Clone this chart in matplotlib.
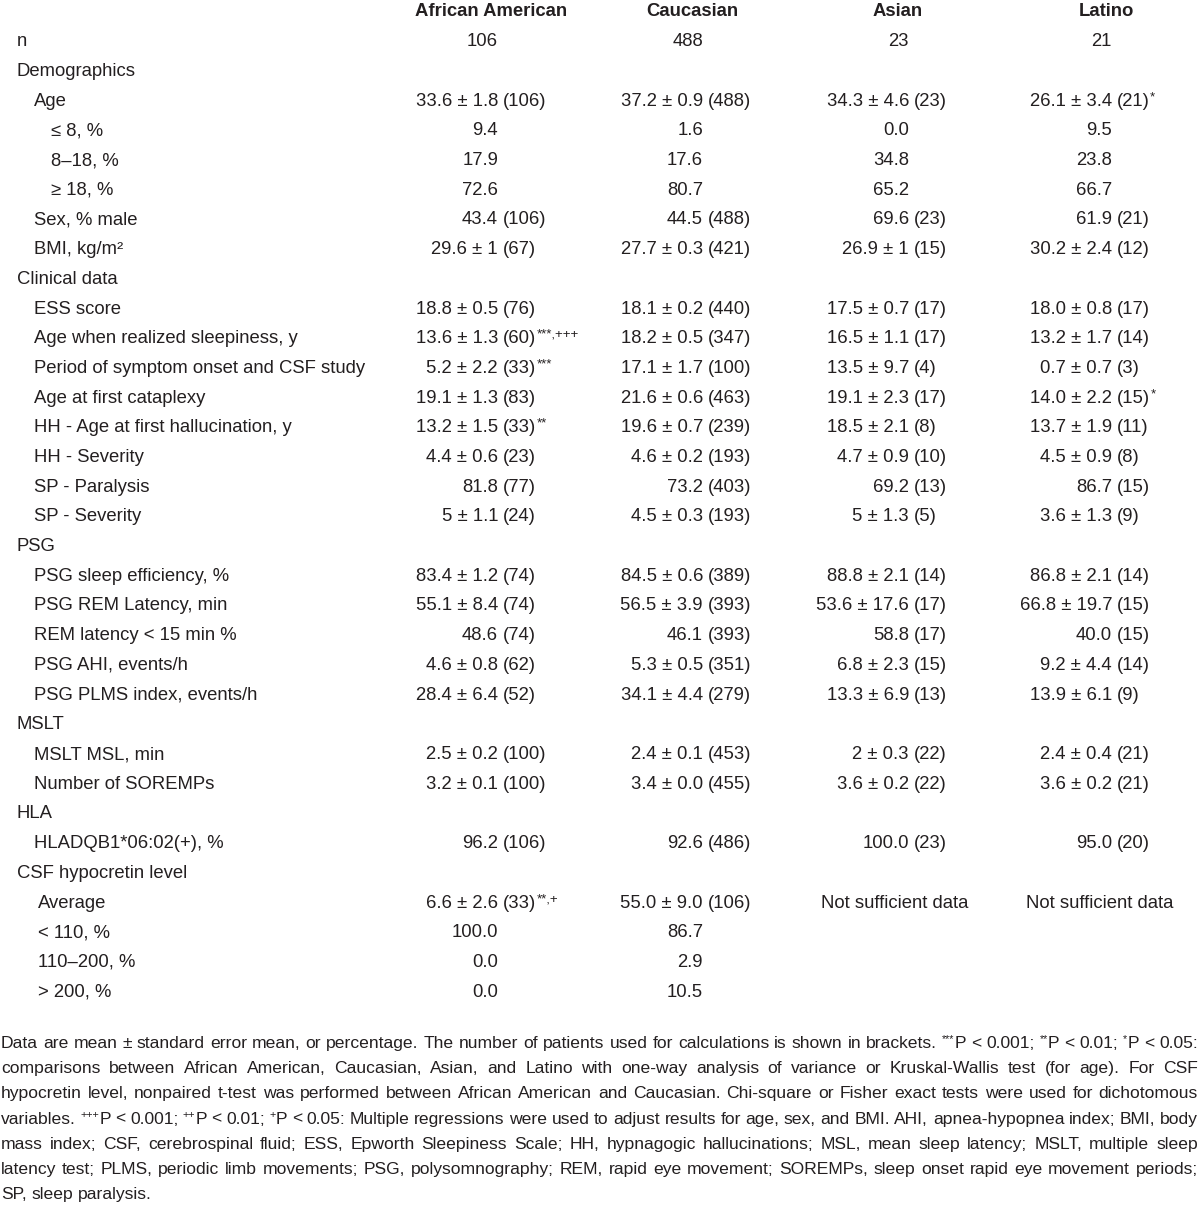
import re

import matplotlib
matplotlib.use("Agg")
import matplotlib.pyplot as plt


# table content, one list per column; "^" separates the superscript marks
ROW_LABELS = [
    "n", "Demographics", "Age", "≤ 8, %", "8–18, %", "≥ 18, %", "Sex, % male", "BMI, kg/m²",
    "Clinical data", "ESS score", "Age when realized sleepiness, y",
    "Period of symptom onset and CSF study", "Age at first cataplexy",
    "HH - Age at first hallucination, y", "HH - Severity", "SP - Paralysis", "SP - Severity",
    "PSG", "PSG sleep efficiency, %", "PSG REM Latency, min", "REM latency < 15 min %",
    "PSG AHI, events/h", "PSG PLMS index, events/h",
    "MSLT", "MSLT MSL, min", "Number of SOREMPs",
    "HLA", "HLADQB1*06:02(+), %",
    "CSF hypocretin level", "Average", "< 110, %", "110–200, %", "> 200, %",
]
ROW_LEVELS = [0, 0, 1, 2, 2, 2, 1, 1,
              0, 1, 1, 1, 1, 1, 1, 1, 1,
              0, 1, 1, 1, 1, 1,
              0, 1, 1,
              0, 1,
              0, 3, 3, 3, 3]

HEADERS = ["African American", "Caucasian", "Asian", "Latino"]

AFRICAN_AMERICAN = [
    "106", "", "33.6 ± 1.8 (106)", "9.4", "17.9", "72.6", "43.4 (106)", "29.6 ± 1 (67)",
    "", "18.8 ± 0.5 (76)", "13.6 ± 1.3 (60)^***,+++", "5.2 ± 2.2 (33)^***", "19.1 ± 1.3 (83)",
    "13.2 ± 1.5 (33)^**", "4.4 ± 0.6 (23)", "81.8 (77)", "5 ± 1.1 (24)",
    "", "83.4 ± 1.2 (74)", "55.1 ± 8.4 (74)", "48.6 (74)", "4.6 ± 0.8 (62)", "28.4 ± 6.4 (52)",
    "", "2.5 ± 0.2 (100)", "3.2 ± 0.1 (100)",
    "", "96.2 (106)",
    "", "6.6 ± 2.6 (33)^**,+", "100.0", "0.0", "0.0",
]
CAUCASIAN = [
    "488", "", "37.2 ± 0.9 (488)", "1.6", "17.6", "80.7", "44.5 (488)", "27.7 ± 0.3 (421)",
    "", "18.1 ± 0.2 (440)", "18.2 ± 0.5 (347)", "17.1 ± 1.7 (100)", "21.6 ± 0.6 (463)",
    "19.6 ± 0.7 (239)", "4.6 ± 0.2 (193)", "73.2 (403)", "4.5 ± 0.3 (193)",
    "", "84.5 ± 0.6 (389)", "56.5 ± 3.9 (393)", "46.1 (393)", "5.3 ± 0.5 (351)", "34.1 ± 4.4 (279)",
    "", "2.4 ± 0.1 (453)", "3.4 ± 0.0 (455)",
    "", "92.6 (486)",
    "", "55.0 ± 9.0 (106)", "86.7", "2.9", "10.5",
]
ASIAN = [
    "23", "", "34.3 ± 4.6 (23)", "0.0", "34.8", "65.2", "69.6 (23)", "26.9 ± 1 (15)",
    "", "17.5 ± 0.7 (17)", "16.5 ± 1.1 (17)", "13.5 ± 9.7 (4)", "19.1 ± 2.3 (17)",
    "18.5 ± 2.1 (8)", "4.7 ± 0.9 (10)", "69.2 (13)", "5 ± 1.3 (5)",
    "", "88.8 ± 2.1 (14)", "53.6 ± 17.6 (17)", "58.8 (17)", "6.8 ± 2.3 (15)", "13.3 ± 6.9 (13)",
    "", "2 ± 0.3 (22)", "3.6 ± 0.2 (22)",
    "", "100.0 (23)",
    "", "Not sufficient data", "", "", "",
]
LATINO = [
    "21", "", "26.1 ± 3.4 (21)^*", "9.5", "23.8", "66.7", "61.9 (21)", "30.2 ± 2.4 (12)",
    "", "18.0 ± 0.8 (17)", "13.2 ± 1.7 (14)", "0.7 ± 0.7 (3)", "14.0 ± 2.2 (15)^*",
    "13.7 ± 1.9 (11)", "4.5 ± 0.9 (8)", "86.7 (15)", "3.6 ± 1.3 (9)",
    "", "86.8 ± 2.1 (14)", "66.8 ± 19.7 (15)", "40.0 (15)", "9.2 ± 4.4 (14)", "13.9 ± 6.1 (9)",
    "", "2.4 ± 0.4 (21)", "3.6 ± 0.2 (21)",
    "", "95.0 (20)",
    "", "Not sufficient data", "", "", "",
]

# footnote, line breaks as printed; {..} marks superscript
FOOTNOTE_LINES = [
    "Data are mean ± standard error mean, or percentage. The number of patients used for calculations is shown in brackets. {***}P < 0.001; {**}P < 0.01; {*}P < 0.05:",
    "comparisons between African American, Caucasian, Asian, and Latino with one-way analysis of variance or Kruskal-Wallis test (for age). For CSF",
    "hypocretin level, nonpaired t-test was performed between African American and Caucasian. Chi-square or Fisher exact tests were used for dichotomous",
    "variables. {+++}P < 0.001; {++}P < 0.01; {+}P < 0.05: Multiple regressions were used to adjust results for age, sex, and BMI. AHI, apnea-hypopnea index; BMI, body",
    "mass index; CSF, cerebrospinal fluid; ESS, Epworth Sleepiness Scale; HH, hypnagogic hallucinations; MSL, mean sleep latency; MSLT, multiple sleep",
    "latency test; PLMS, periodic limb movements; PSG, polysomnography; REM, rapid eye movement; SOREMPs, sleep onset rapid eye movement periods;",
    "SP, sleep paralysis.",
]

INK = "#231f20"
FONT = ["Liberation Sans", "DejaVu Sans"]
NARROW = ["Liberation Sans Narrow", "Liberation Sans", "DejaVu Sans"]
plt.rcParams["font.family"] = FONT

COLUMN_ANCHORS = [503, 708, 914, 1117]   # x of the "(" in each column
HEADER_CENTERS = [491, 692, 898, 1106]
NA_CENTERS = [491, 692, 895, 1100]
LEVEL_X = {0: 17, 1: 34, 2: 51, 3: 38}
ROW_TOP = 39.5
ROW_STEP = 29.7
BASE_OFFSET = 6.7
GAP = 5.0
FS = 13.3


fig = plt.figure(figsize=(12, 12.05), dpi=100)
ax = fig.add_axes([0, 0, 1, 1])
ax.set_xlim(0, 1200)
ax.set_ylim(1205, 0)
ax.axis("off")
renderer = fig.canvas.get_renderer()


def text_right_edge(t):
    bb = t.get_window_extent(renderer)
    return ax.transData.inverted().transform((bb.x1, bb.y0))[0]


def text_width(t):
    bb = t.get_window_extent(renderer)
    p0 = ax.transData.inverted().transform((bb.x0, bb.y0))[0]
    p1 = ax.transData.inverted().transform((bb.x1, bb.y0))[0]
    return p1 - p0


def draw_cell(value, anchor, center, y):
    main, _, marks = value.partition("^")
    if not main:
        return
    base = y + BASE_OFFSET
    style = dict(va="baseline", fontsize=FS, color=INK)
    if main.startswith("Not"):
        ax.text(center, base, main, ha="center", **style)
        return
    if " (" in main:
        pre, post = main.split(" (", 1)
        ax.text(anchor - GAP, base, pre, ha="right", **style)
        t = ax.text(anchor, base, "(" + post, ha="left", **style)
    else:
        t = ax.text(anchor - GAP, base, main, ha="right", **style)
    if marks:
        x_end = text_right_edge(t)
        ax.text(x_end + 0.3, base - 5.5, marks, ha="left", va="baseline",
                fontsize=9.5, color=INK)


# header
for name, cx in zip(HEADERS, HEADER_CENTERS):
    ax.text(cx, ROW_TOP - ROW_STEP + BASE_OFFSET, name, ha="center", va="baseline",
            fontsize=FS, fontweight="bold", color=INK)

columns = [AFRICAN_AMERICAN, CAUCASIAN, ASIAN, LATINO]
for i, (label, level) in enumerate(zip(ROW_LABELS, ROW_LEVELS)):
    y = ROW_TOP + i * ROW_STEP
    ax.text(LEVEL_X[level], y + BASE_OFFSET, label, ha="left", va="baseline",
            fontsize=FS, color=INK)
    for col, anchor, cna in zip(columns, COLUMN_ANCHORS, NA_CENTERS):
        draw_cell(col[i], anchor, cna, y)


# justified footnote
FOOT_FS = 12.6
FOOT_TOP = 1041.5
FOOT_STEP = 25.2
FOOT_LEFT, FOOT_RIGHT = 1.0, 1198.0


def word_segments(word):
    parts = re.split(r"(\{[^}]*\})", word)
    segs = []
    for p in parts:
        if not p:
            continue
        if p.startswith("{"):
            segs.append((p[1:-1], True))
        else:
            segs.append((p, False))
    return segs


def make_seg(seg, sup, x, base):
    if sup:
        return ax.text(x, base - 5.5, seg, ha="left", va="baseline", family=NARROW,
                       fontsize=FOOT_FS * 0.62, color=INK)
    return ax.text(x, base, seg, ha="left", va="baseline", family=NARROW,
                   fontsize=FOOT_FS, color=INK)


def place_word(word, x, base):
    for seg, sup in word_segments(word):
        t = make_seg(seg, sup, x, base)
        x += text_width(t)
    return x


def measure_word(word):
    w = 0.0
    for seg, sup in word_segments(word):
        t = make_seg(seg, sup, 0, 0)
        w += text_width(t)
        t.remove()
    return w


SPACE_W = measure_word("a a") - measure_word("aa")

for k, line in enumerate(FOOTNOTE_LINES):
    base = FOOT_TOP + k * FOOT_STEP + 6.5
    words = line.split(" ")
    widths = [measure_word(w) for w in words]
    last = k == len(FOOTNOTE_LINES) - 1
    if last or len(words) < 2:
        gap = SPACE_W
    else:
        gap = (FOOT_RIGHT - FOOT_LEFT - sum(widths)) / (len(words) - 1)
    x = FOOT_LEFT
    for w, wd in zip(words, widths):
        place_word(w, x, base)
        x += wd + gap

fig.savefig("out.png", dpi=100, facecolor="white")
